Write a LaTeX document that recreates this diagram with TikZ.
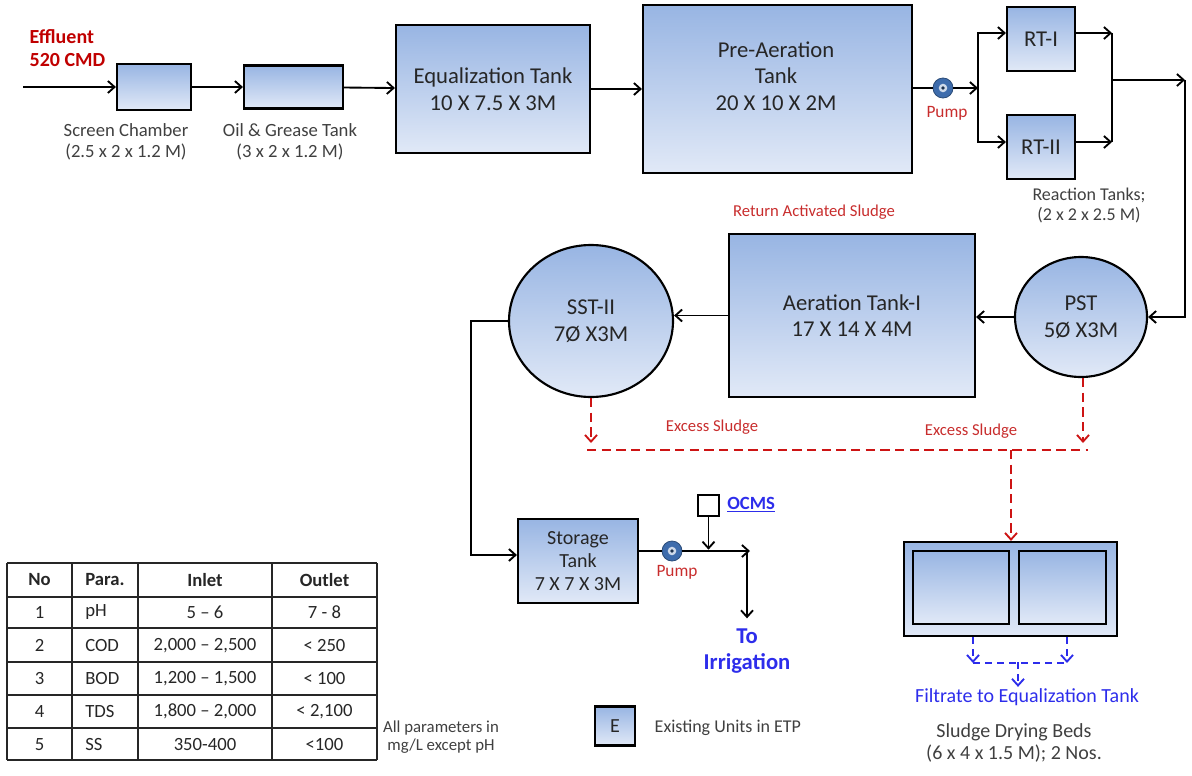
\documentclass[tikz,border=0pt]{standalone}
\usepackage{fontspec}
\setmainfont{Carlito}
\usetikzlibrary{arrows.meta,shapes.geometric}

\definecolor{tanktop}{RGB}{152,181,227}
\definecolor{tankbot}{RGB}{225,233,247}
\definecolor{boxtext}{RGB}{38,38,38}
\definecolor{dimgray}{RGB}{64,64,64}
\definecolor{labelred}{RGB}{200,45,45}
\definecolor{effred}{RGB}{192,0,0}
\definecolor{sludgered}{RGB}{205,20,20}
\definecolor{filtblue}{RGB}{45,45,235}
\definecolor{pumpblue}{RGB}{62,108,172}

\tikzset{
  tank/.style={draw=black, line width=1.6pt, top color=tanktop, bottom color=tankbot,
    text=boxtext, align=center, inner sep=2pt, font=\fontsize{17}{20}\selectfont},
  tanktext/.style={text=boxtext, align=center, font=\fontsize{17}{20}\selectfont},
  flow/.style={line width=1.4pt, -{Straight Barb[length=5pt,width=9pt]}},
  sludge/.style={flow, draw=sludgered, dash pattern=on 7pt off 4pt},
  sludgeline/.style={line width=1.4pt, draw=sludgered, dash pattern=on 7pt off 4pt},
  filtrate/.style={flow, draw=filtblue, dash pattern=on 5pt off 4pt},
  filtline/.style={line width=1.4pt, draw=filtblue, dash pattern=on 5pt off 4pt},
  dimlabel/.style={text=dimgray, align=center, font=\fontsize{14}{16}\selectfont},
  redlabel/.style={text=labelred, font=\fontsize{12.5}{14}\selectfont},
  pump/.style={circle, draw=pumpblue!70!black, fill=pumpblue, minimum size=15pt,
    inner sep=0pt, line width=0.6pt},
  tableline/.style={line width=1.1pt, draw=black!85},
  cell/.style={text=boxtext, font=\fontsize{14}{16}\selectfont, inner sep=0pt},
}

\newcommand{\pumpeye}[1]{%
  \fill[white!75!pumpblue] (#1) circle[radius=3.2pt];
  \fill[pumpblue!45!black] (#1) circle[radius=1.4pt];}

\begin{document}
\begin{tikzpicture}[x=0.75pt,y=-0.75pt]
\useasboundingbox (0,0) rectangle (1192,775);

% inlet and pre-treatment
\node[anchor=west, align=left, text=effred, font=\bfseries\fontsize{15}{17}\selectfont] (eff) at (25,48) {Effluent\\520 CMD};
\coordinate (inlet) at (23,87);
\node[tank, minimum width=55.5pt, minimum height=34.5pt] (screen) at (154,87) {};
\node[dimlabel] (screen-l) at (126,142) {Screen Chamber\\(2.5 x 2 x 1.2 M)};
\node[tank, minimum width=74.25pt, minimum height=32.25pt] (oil) at (293.5,87) {};
\node[dimlabel] (oil-l) at (290,142) {Oil \& Grease Tank\\(3 x 2 x 1.2 M)};
\node[tank, minimum width=145.5pt, minimum height=96pt] (equal) at (493,89) {Equalization Tank\\10 X 7.5 X 3M};
\node[tank, minimum width=201.75pt, minimum height=126pt] (preaer) at (777.5,89) {};
\node[tanktext] (preaer-t) at (776,76) {Pre-Aeration\\Tank\\20 X 10 X 2M};

\draw[flow] (inlet) -- (screen.west);
\draw[flow] (screen) -- (oil);
\draw[flow] (oil) -- (equal);
\draw[flow] (equal.east) -- (equal.east -| preaer.west);

% pump and reaction tanks
\node[pump] (pump1) at (943,88) {};
\pumpeye{pump1}
\node[redlabel, font=\fontsize{13}{15}\selectfont] (pump1-l) at (947,113) {Pump};
\coordinate (split) at (978,88);
\node[tank, minimum width=51pt, minimum height=48pt] (rt1) at (1041,39) {RT-I};
\node[tank, minimum width=51pt, minimum height=48pt] (rt2) at (1041,147) {RT-II};
\coordinate (j1) at (1112,33);
\coordinate (j2) at (1112,142);
\coordinate (join) at (1112,80);
\coordinate (turn) at (1185,80);
\node[dimlabel, font=\fontsize{13.5}{15}\selectfont] (rt-l) at (1089,205) {Reaction Tanks;\\(2 x 2 x 2.5 M)};

\draw[line width=1.4pt] (preaer.east |- pump1) -- (pump1.west);
\draw[flow] (pump1.east) -- (split);
\draw[flow] (split) |- ([yshift=4.5pt]rt1.west);
\draw[flow] (split) |- ([yshift=3.75pt]rt2.west);
\draw[flow] ([yshift=4.5pt]rt1.east) -- (j1);
\draw[flow] ([yshift=3.75pt]rt2.east) -- (j2);
\draw[line width=1.4pt] (j1) -- (j2);
\draw[flow] (join) -- (turn);

% biological treatment
\node[tank, ellipse, minimum width=99pt, minimum height=90pt] (pst) at (1081,317) {PST\\5Ø X3M};
\node[tank, minimum width=184.5pt, minimum height=122.25pt] (aer) at (852,315.5) {Aeration Tank-I\\17 X 14 X 4M};
\node[tank, ellipse, minimum width=123pt, minimum height=114pt] (sst) at (591,321) {SST-II\\7Ø X3M};
\node[redlabel] (ras) at (814,212) {Return Activated Sludge};

\draw[flow] (turn) |- (pst.east);
\draw[flow] (pst.west) -- (pst.west -| aer.east);
\draw[flow] (aer.west) -- (aer.west -| sst.east);

% excess sludge
\coordinate (ex1) at (591,443);
\coordinate (ex2) at (1083,443);
\coordinate (exl) at (587,450);
\coordinate (exr) at (1088,450);
\coordinate (exm) at (1011,450);
\node[redlabel] (ex-l1) at (712,427) {Excess Sludge};
\node[redlabel] (ex-l2) at (971,431) {Excess Sludge};
\draw[sludge] (sst.south) -- (ex1);
\draw[sludge] (pst.south -| ex2) -- (ex2);
\draw[sludgeline] (exl) -- (exr);

% sludge drying beds
\node[tank, minimum width=159.75pt, minimum height=70.5pt] (beds) at (1010.5,589) {};
\node[tank, minimum width=72pt, minimum height=54.75pt] (bed1) at (961,587.5) {};
\node[tank, minimum width=65.25pt, minimum height=54.75pt] (bed2) at (1062.5,587.5) {};
\draw[sludge] (exm) -- (beds.north -| exm);
\coordinate (fl) at (973,663);
\coordinate (fr) at (1067,663);
\coordinate (fmid) at (1018,662);
\node[text=filtblue, font=\fontsize{15}{17}\selectfont, inner sep=1pt] (filtr) at (1027,697) {Filtrate to Equalization Tank};
\draw[filtrate] (beds.south -| fl) -- (fl);
\draw[filtrate] (beds.south -| fr) -- (fr);
\draw[filtline] (fl) -- (fr);
\draw[filtrate] (fmid) -- (filtr.north -| fmid);
\node[dimlabel, font=\fontsize{15}{17}\selectfont] (beds-l) at (1014,743) {Sludge Drying Beds\\(6 x 4 x 1.5 M); 2 Nos.};

% treated water
\coordinate (bend) at (471,324);
\node[tank, minimum width=90pt, minimum height=63pt, font=\fontsize{15}{17.25}\selectfont] (storage) at (578,561) {Storage\\Tank\\7 X 7 X 3M};
\draw[flow] (sst.west) -- (sst.west -| bend) |- ([yshift=4.5pt]storage.west);
\node[pump] (pump2) at (672,551) {};
\pumpeye{pump2}
\node[redlabel, font=\fontsize{13}{15}\selectfont] (pump2-l) at (677,572) {Pump};
\coordinate (outlet) at (750,551);
\coordinate (drop) at (747,551);
\draw[line width=1.4pt] ([yshift=7.5pt]storage.east) -- (pump2.west);
\draw[flow] (pump2.east) -- (outlet);
\node[draw=black, line width=1.2pt, fill=white, minimum size=15.75pt, inner sep=0pt] (ocms) at (708.5,505.5) {};
\node[anchor=west, text=filtblue, font=\bfseries\fontsize{14}{16}\selectfont, inner sep=0pt] (ocms-l) at (727,505) {\underline{OCMS}};
\draw[flow, shorten >=1pt] (ocms) -- (ocms |- outlet);
\node[anchor=north, align=center, text=filtblue, font=\bfseries\fontsize{17}{19.5}\selectfont, inner sep=0pt] (irr) at (747,629) {To\\Irrigation};
\draw[flow, shorten >=8pt] (drop) -- (irr.north);

% parameter table
\foreach \y in {563,597,628,662,695,728,760}
  \draw[tableline] (7,\y) -- (377,\y);
\foreach \x in {7,72,138,272,377}
  \draw[tableline] (\x,563) -- (\x,760);
\node[cell, font=\bfseries\fontsize{14}{16}\selectfont] (h-no) at (39.5,580) {No};
\node[cell, font=\bfseries\fontsize{14}{16}\selectfont] (h-para) at (105,580) {Para.};
\node[cell, font=\bfseries\fontsize{14}{16}\selectfont] (h-in) at (205,580) {Inlet};
\node[cell, font=\bfseries\fontsize{14}{16}\selectfont] (h-out) at (324.5,580) {Outlet};
\foreach \no/\pname/\inl/\outl [count=\r from 0] in
  {1/pH/5 – 6/7 - 8,
   2/COD/{2,000 – 2,500}/< 250,
   3/BOD/{1,200 – 1,500}/< 100,
   4/TDS/{1,800 – 2,000}/{< 2,100},
   5/SS/350-400/<100}
{
  \pgfmathsetmacro\ry{612.5+33*\r}
  \node[cell] (no\no) at (39.5,\ry) {\no};
  \node[cell, anchor=west] (para\no) at (85,\ry) {\pname};
  \node[cell] (in\no) at (205,\ry) {\inl};
  \node[cell] (out\no) at (324.5,\ry) {\outl};
}
\node[dimlabel, font=\fontsize{12.6}{14}\selectfont] (note) at (441,737) {All parameters in\\mg/L except pH};

% legend
\node[tank, minimum width=30pt, minimum height=29.25pt, font=\fontsize{15}{17}\selectfont] (legend) at (615,726) {E};
\node[dimlabel, anchor=west, font=\fontsize{13.5}{15}\selectfont] (legend-l) at (650,728) {Existing Units in ETP};
\end{tikzpicture}
\end{document}
